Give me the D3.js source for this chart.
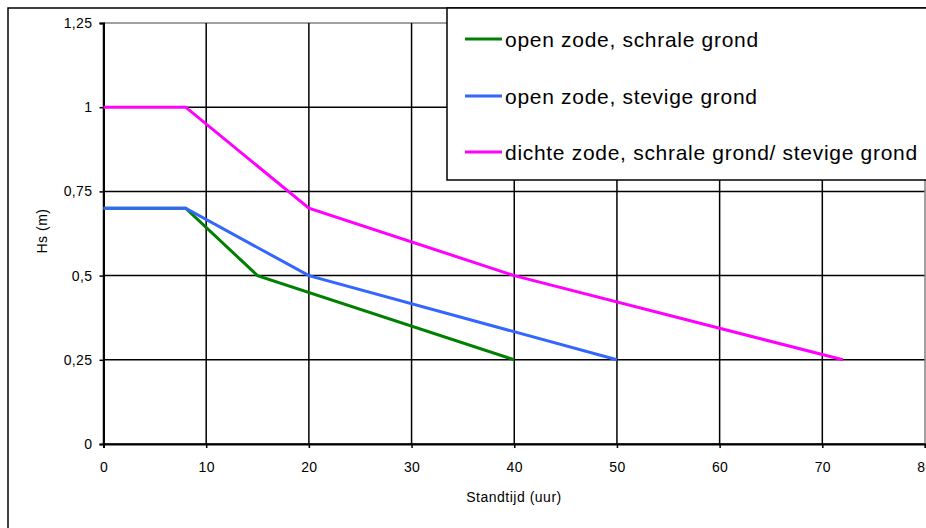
<!DOCTYPE html>
<html><head><meta charset="utf-8">
<script src="https://cdn.jsdelivr.net/npm/d3@7"></script>
<style>body{margin:0;background:#fff;} svg{display:block;font-family:"Liberation Sans",Arial,sans-serif;}</style>
</head><body>
<svg id="c" width="926" height="528"></svg>
<script>
const seriesNames = ["open zode, schrale grond", "open zode, stevige grond", "dichte zode, schrale grond/ stevige grond"];
const seriesColors = ["#008000", "#3366ff", "#ff00ff"];
const greenX = [0, 8, 15, 40];
const greenY = [0.7, 0.7, 0.5, 0.25];
const blueX = [0, 8, 20, 50];
const blueY = [0.7, 0.7, 0.5, 0.25];
const magentaX = [0, 8, 20, 40, 72];
const magentaY = [1, 1, 0.7, 0.5, 0.25];
const xTicks = [0, 10, 20, 30, 40, 50, 60, 70, 80];
const yTicks = [0, 0.25, 0.5, 0.75, 1, 1.25];
const yTickLabels = ["0", "0,25", "0,5", "0,75", "1", "1,25"];

const svg = d3.select("#c");
const x = d3.scaleLinear().domain([0, 80]).range([103.5, 925]);
const y = d3.scaleLinear().domain([0, 1.25]).range([444, 23]);

// outer frame
svg.append("rect").attr("x", 8).attr("y", 8).attr("width", 940).attr("height", 540)
  .attr("fill", "#fff").attr("stroke", "#000").attr("stroke-width", 1.5);

// grid
const grid = svg.append("g");
yTicks.forEach(v => {
  grid.append("line").attr("x1", x(0)).attr("x2", x(80)).attr("y1", y(v)).attr("y2", y(v))
    .attr("stroke", v === 1.25 ? "#808080" : "#000").attr("stroke-width", 1.5);
});
xTicks.forEach(v => {
  grid.append("line").attr("x1", x(v)).attr("x2", x(v)).attr("y1", y(0)).attr("y2", y(1.25))
    .attr("stroke", v === 80 ? "#808080" : "#000").attr("stroke-width", 1.5);
});

// axes
const yAxis = d3.axisLeft(y).tickValues(yTicks).tickFormat((d, i) => yTickLabels[i]).tickSize(4).tickPadding(7);
const gy = svg.append("g").attr("transform", `translate(${x(0)},0)`).call(yAxis);
const xAxis = d3.axisBottom(x).tickValues(xTicks).tickFormat(d3.format("d")).tickSize(4).tickPadding(14);
const gx = svg.append("g").attr("transform", `translate(0,${y(0)})`).call(xAxis);
[gx, gy].forEach(g => {
  g.select(".domain").attr("stroke", "#000").attr("stroke-width", 2);
  g.selectAll(".tick line").attr("stroke", "#000").attr("stroke-width", 1.5);
  g.selectAll("text").attr("fill", "#000").style("font-size", "14px").style("letter-spacing", "0.4px")
    .style("font-family", '"Liberation Sans", Arial, sans-serif');
});

// axis titles
svg.append("text").attr("x", 514).attr("y", 502).attr("text-anchor", "middle")
  .style("font-size", "14px").style("letter-spacing", "0.5px").text("Standtijd (uur)");
svg.append("text").attr("transform", "translate(47,231) rotate(-90)").attr("text-anchor", "middle")
  .style("font-size", "14px").style("letter-spacing", "0.5px").text("Hs (m)");

// lines
const line = d3.line().x(d => x(d[0])).y(d => y(d[1]));
const series = [
  d3.zip(greenX, greenY),
  d3.zip(blueX, blueY),
  d3.zip(magentaX, magentaY)
];
series.forEach((s, i) => {
  svg.append("path").datum(s).attr("d", line).attr("fill", "none")
    .attr("stroke", seriesColors[i]).attr("stroke-width", 3).attr("stroke-linejoin", "miter");
});

// legend
const lg = svg.append("g");
lg.append("rect").attr("x", 447).attr("y", 8).attr("width", 500).attr("height", 172)
  .attr("fill", "#fff").attr("stroke", "#000").attr("stroke-width", 1.5);
const legendY = [39, 96, 152];
seriesNames.forEach((n, i) => {
  lg.append("line").attr("x1", 465).attr("x2", 502).attr("y1", legendY[i]).attr("y2", legendY[i])
    .attr("stroke", seriesColors[i]).attr("stroke-width", 3);
  lg.append("text").attr("x", 505).attr("y", legendY[i] + 8).style("font-size", "21px")
    .style("letter-spacing", "0.7px").attr("fill", "#000").text(n);
});
</script>
</body></html>
